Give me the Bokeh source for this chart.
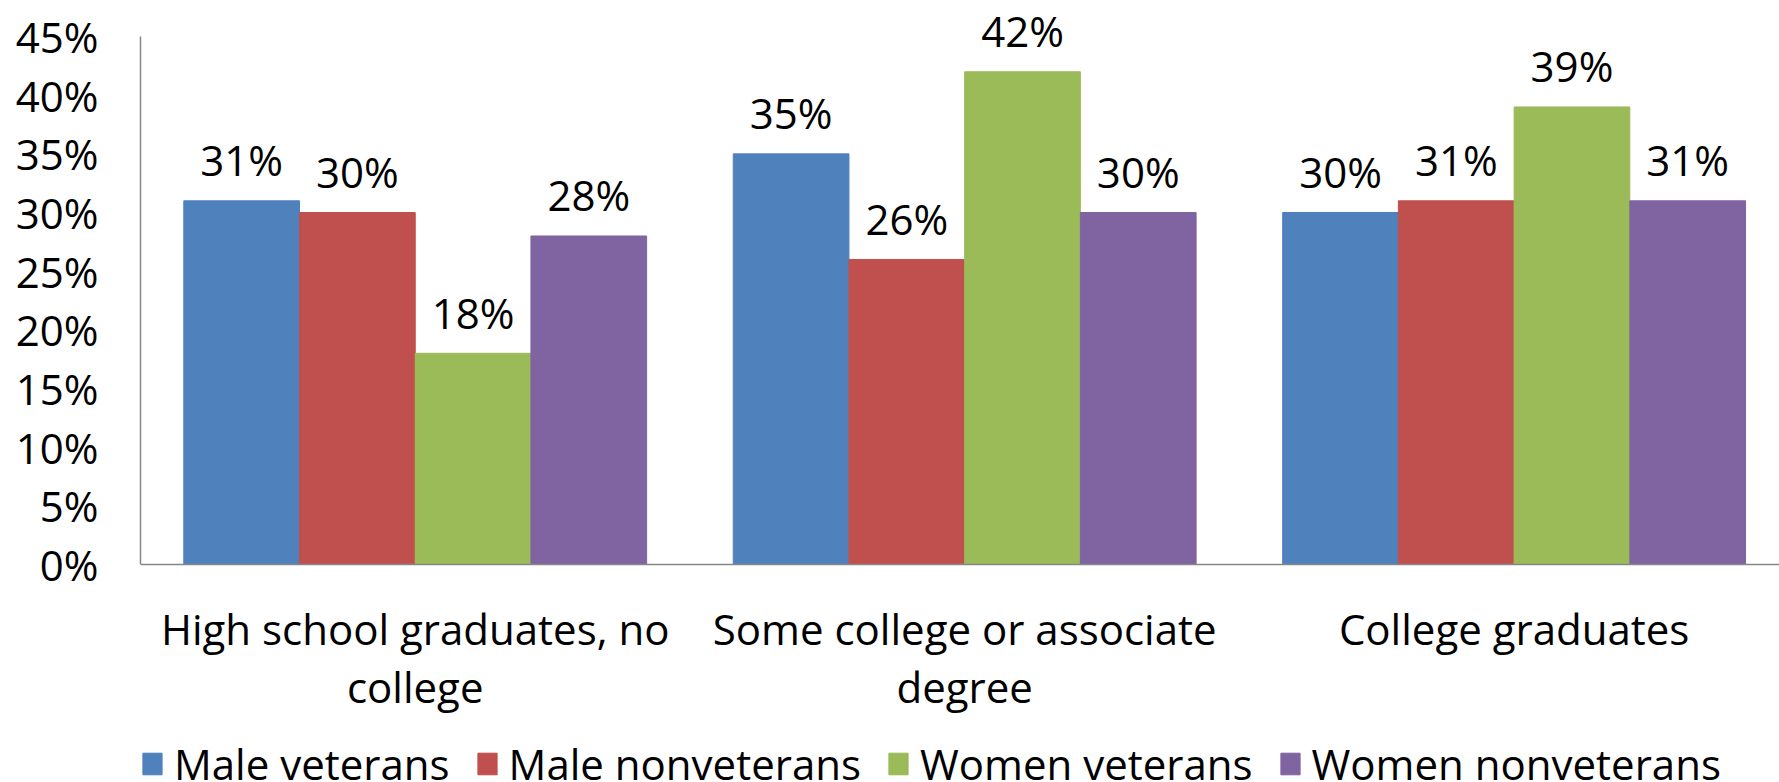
from bokeh.plotting import figure
from bokeh.models import ColumnDataSource, Range1d, FixedTicker, Legend, LegendItem, NumeralTickFormatter, Span
from bokeh.transform import dodge
from bokeh.core.properties import value
from bokeh.embed import file_html
from bokeh.resources import INLINE

categories = ["High school graduates, no college", "Some college or associate degree", "College graduates"]
category_labels = ["High school graduates, no\ncollege", "Some college or associate\ndegree", "College graduates"]
series = ["Male veterans", "Male nonveterans", "Women veterans", "Women nonveterans"]
male_veterans = [0.31, 0.35, 0.30]
male_nonveterans = [0.30, 0.26, 0.31]
women_veterans = [0.18, 0.42, 0.39]
women_nonveterans = [0.28, 0.30, 0.31]
y_ticks = [0, 0.05, 0.10, 0.15, 0.20, 0.25, 0.30, 0.35, 0.40, 0.45]

colors = ["#4F81BD", "#C0504D", "#9BBB59", "#8064A2"]
AXIS_GRAY = "#868686"
FONT = "Open Sans"
FS = "42px"

xpos = [i + 0.5 for i in range(len(categories))]
data = dict(x=xpos, mv=male_veterans, mn=male_nonveterans, wv=women_veterans, wn=women_nonveterans)
for key, vals in [("mv", male_veterans), ("mn", male_nonveterans), ("wv", women_veterans), ("wn", women_nonveterans)]:
    data[key + "_lbl"] = ["%d%%" % round(v * 100) for v in vals]
lines = [lbl.split("\n") + [""] for lbl in category_labels]
data["line1"] = [l[0] for l in lines]
data["line2"] = [l[1] for l in lines]
data["base"] = [0] * len(categories)
src = ColumnDataSource(data)

p = figure(frame_width=1639, frame_height=800, output_backend="svg", toolbar_location=None,
           x_range=Range1d(0, 2.983), y_range=Range1d(-0.2114, 0.4705), x_axis_location=None,
           min_border_left=140, min_border_right=0, min_border_top=12, min_border_bottom=0)
p.outline_line_color = None
p.xgrid.visible = False
p.ygrid.visible = False

bw = 0.2106
offsets = [-1.5 * bw, -0.5 * bw, 0.5 * bw, 1.5 * bw]
keys = ["mv", "mn", "wv", "wn"]
items = []
for key, off, col, name in zip(keys, offsets, colors, series):
    r = p.vbar(x=dodge("x", off), top=key, width=bw, source=src, fill_color=col, line_color=col, line_width=1)
    items.append(LegendItem(label=name, renderers=[r]))
    p.text(x=dodge("x", off), y=key, text=key + "_lbl", source=src, text_align="center", text_baseline="middle",
           y_offset=-41, text_font=value(FONT), text_font_size=FS, text_color="black")

# category (x axis) labels
p.text(x="x", y="base", text="line1", source=src, text_align="center", text_baseline="middle",
       y_offset=64, text_font=value(FONT), text_font_size=FS, text_color="black")
p.text(x="x", y="base", text="line2", source=src, text_align="center", text_baseline="middle",
       y_offset=122, text_font=value(FONT), text_font_size=FS, text_color="black")

# baseline (x axis line)
p.add_layout(Span(location=0, dimension="width", line_color=AXIS_GRAY, line_width=1.5))

p.yaxis.ticker = FixedTicker(ticks=y_ticks)
p.yaxis.bounds = (0, 0.45)
p.yaxis.formatter = NumeralTickFormatter(format="0%")
p.yaxis.major_tick_line_color = None
p.yaxis.minor_tick_line_color = None
p.yaxis.axis_line_color = AXIS_GRAY
p.yaxis.axis_line_width = 1.5
p.yaxis.major_label_standoff = 36
p.yaxis.major_label_text_font = FONT
p.yaxis.major_label_text_font_size = FS
p.yaxis.major_label_text_color = "black"

legend = Legend(items=items, orientation="horizontal", location=(0, 20),
                label_text_font=FONT, label_text_font_size=FS, label_text_color="black",
                glyph_width=24, glyph_height=27, label_standoff=10, spacing=25,
                border_line_color=None, background_fill_alpha=0, padding=0, margin=0)
p.add_layout(legend, "center")

open("out.html", "w").write(file_html(p, INLINE))
